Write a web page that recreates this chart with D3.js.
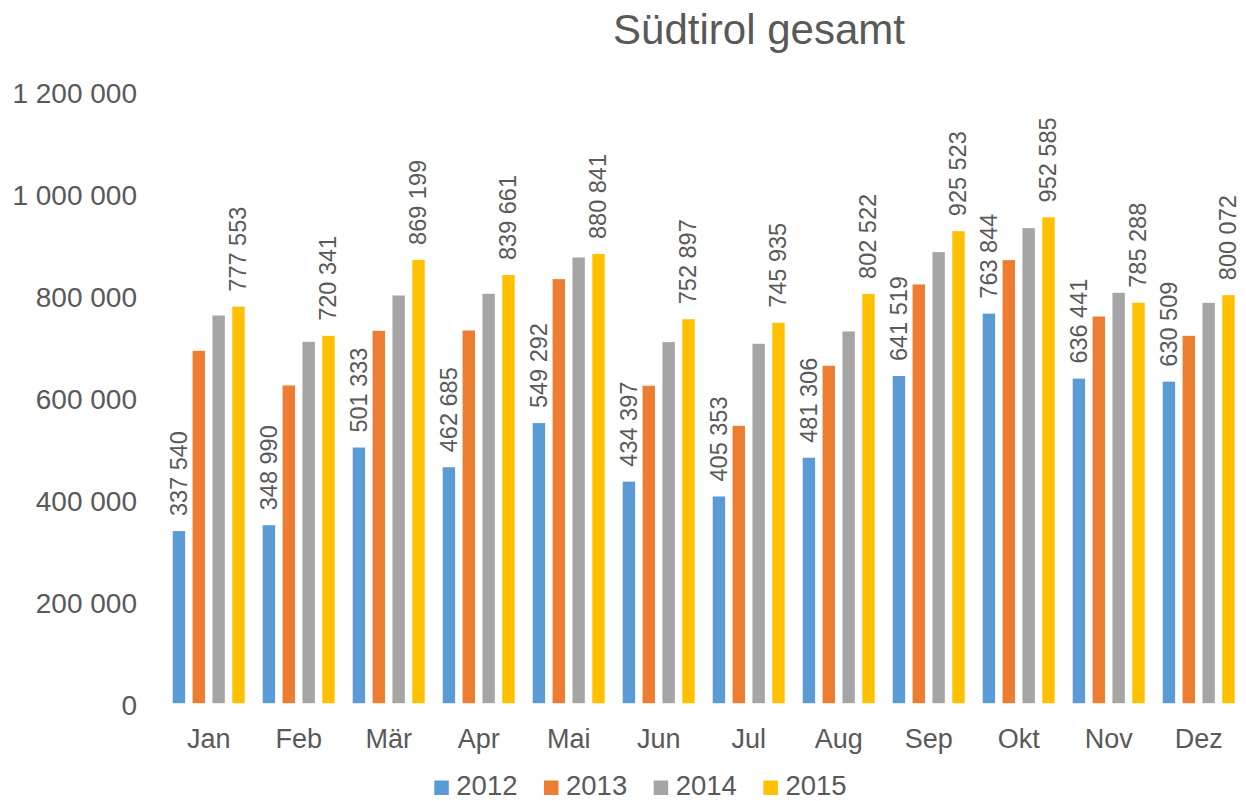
<!DOCTYPE html>
<html>
<head>
<meta charset="utf-8">
<script src="https://cdn.jsdelivr.net/npm/d3@7"></script>
<style>
  html, body { margin: 0; padding: 0; background: #fff; }
  svg { display: block; font-family: "Liberation Sans", Arial, sans-serif; }
</style>
</head>
<body>
<svg id="chart" width="1246" height="801"></svg>
<script>
// Monthly totals, South Tyrol, 2012–2015
const months = ["Jan", "Feb", "Mär", "Apr", "Mai", "Jun", "Jul", "Aug", "Sep", "Okt", "Nov", "Dez"];
const years = ["2012", "2013", "2014", "2015"];
const values2012 = [337540, 348990, 501333, 462685, 549292, 434397, 405353, 481306, 641519, 763844, 636441, 630509];
const values2013 = [691000, 623000, 730200, 730800, 831500, 622400, 543900, 661600, 821000, 868800, 758200, 720400];
const values2014 = [760200, 708600, 799400, 802700, 874000, 708000, 704700, 728900, 884500, 931500, 804700, 785100];
const values2015 = [777553, 720341, 869199, 839661, 880841, 752897, 745935, 802522, 925523, 952585, 785288, 800072];
const yTicks = [0, 200000, 400000, 600000, 800000, 1000000, 1200000];
const labelledYears = ["2012", "2015"];

const seriesValues = { "2012": values2012, "2013": values2013, "2014": values2014, "2015": values2015 };
const colors = { "2012": "#5B9BD5", "2013": "#ED7D31", "2014": "#A5A5A5", "2015": "#FFC000" };
const textColor = "#595959";

const svg = d3.select("#chart");
svg.append("rect").attr("width", 1246).attr("height", 801).attr("fill", "#fff");

const plot = { left: 163.7, right: 1243.7, top: 91.2, bottom: 703.2 };

const x0 = d3.scaleBand().domain(months).range([plot.left, plot.right])
  .paddingInner(0.2).paddingOuter(0.1);
const x1 = d3.scaleBand().domain(years).range([0, x0.bandwidth()])
  .paddingInner(0.375).paddingOuter(0);
const y = d3.scaleLinear().domain([0, 1200000]).range([plot.bottom, plot.top]);

const fmt = d3.formatLocale({ decimal: ",", thousands: " ", grouping: [3], currency: ["", " €"] }).format(",d");

// Title
svg.append("text")
  .attr("x", 759).attr("y", 44.3)
  .attr("text-anchor", "middle")
  .attr("font-size", 42)
  .attr("fill", textColor)
  .text("Südtirol gesamt");

// Y axis (labels only)
const yAxis = svg.append("g")
  .attr("transform", `translate(137,0)`)
  .call(d3.axisLeft(y).tickValues(yTicks).tickSize(0).tickPadding(0).tickFormat(fmt));
yAxis.select(".domain").remove();
yAxis.selectAll("text")
  .attr("font-size", 28)
  .attr("font-family", "'Liberation Sans', Arial, sans-serif")
  .attr("fill", textColor)
  .attr("dy", 11);

// X axis (labels only)
const xAxis = svg.append("g")
  .attr("transform", `translate(0,${plot.bottom})`)
  .call(d3.axisBottom(x0).tickSize(0).tickPadding(0));
xAxis.select(".domain").remove();
xAxis.selectAll("text")
  .attr("font-size", 27)
  .attr("font-family", "'Liberation Sans', Arial, sans-serif")
  .attr("fill", textColor)
  .attr("dy", 45);

// Bars
const groups = svg.append("g").selectAll("g")
  .data(months)
  .join("g")
  .attr("transform", d => `translate(${x0(d)},0)`);

groups.selectAll("rect")
  .data((m, i) => years.map(yr => ({ year: yr, value: seriesValues[yr][i] })))
  .join("rect")
  .attr("x", d => x1(d.year))
  .attr("y", d => y(d.value))
  .attr("width", x1.bandwidth())
  .attr("height", d => y(0) - y(d.value))
  .attr("fill", d => colors[d.year]);

// Value labels for 2012 and 2015
groups.selectAll("text.val")
  .data((m, i) => labelledYears.map(yr => ({ year: yr, value: seriesValues[yr][i] })))
  .join("text")
  .attr("class", "val")
  .attr("transform", d => `translate(${x1(d.year) + x1.bandwidth() / 2},${y(d.value) - 15}) rotate(-90)`)
  .attr("text-anchor", "start")
  .attr("dominant-baseline", "central")
  .attr("font-size", 23.5)
  .attr("fill", textColor)
  .text(d => fmt(d.value));

// Legend
const legend = svg.append("g").selectAll("g")
  .data(years)
  .join("g")
  .attr("transform", (d, i) => `translate(${434.3 + i * 109.7},0)`);
legend.append("rect")
  .attr("x", 0).attr("y", 780.5)
  .attr("width", 14.5).attr("height", 14.5)
  .attr("fill", d => colors[d]);
legend.append("text")
  .attr("x", 22).attr("y", 795)
  .attr("font-size", 27.5)
  .attr("fill", textColor)
  .text(d => d);
</script>
</body>
</html>
